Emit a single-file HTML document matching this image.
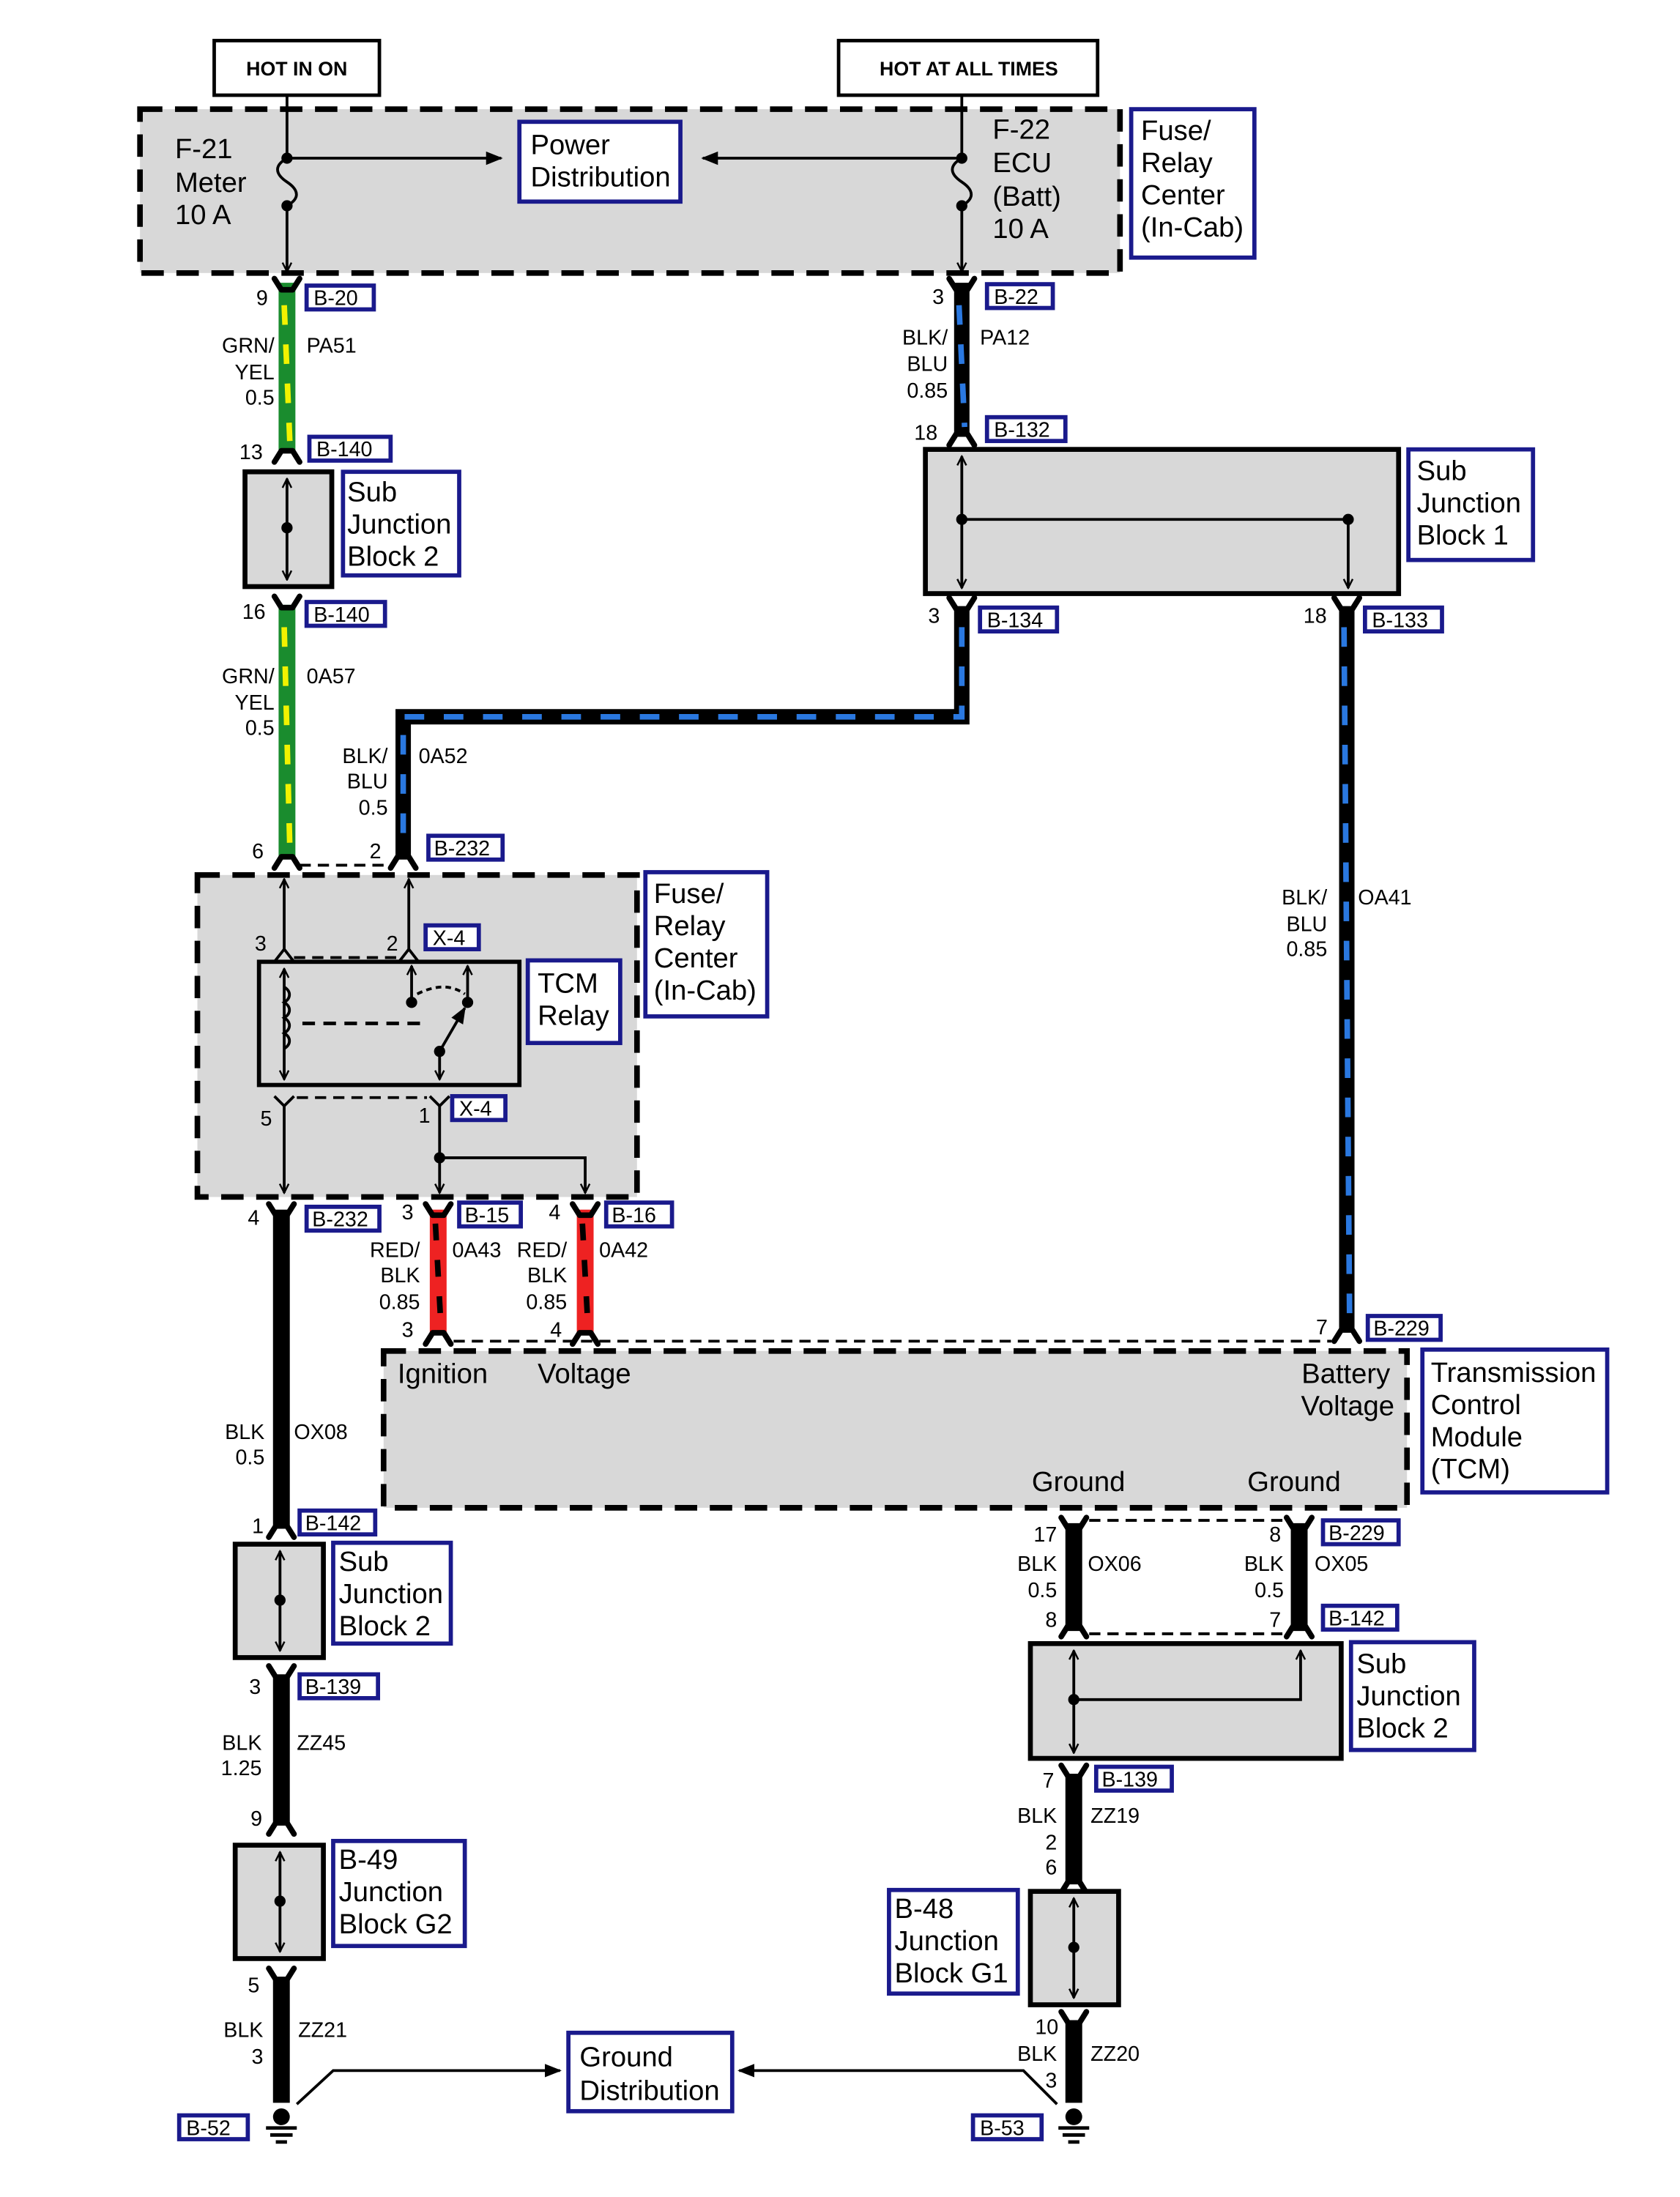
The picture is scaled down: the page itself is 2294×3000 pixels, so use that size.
<!DOCTYPE html>
<html><head><meta charset="utf-8"><style>
html,body{margin:0;padding:0;background:#fff;}
svg{display:block;}
text{font-family:"Liberation Sans",Arial,sans-serif;fill:#000;}
.s{font-size:15px;}
.m{font-size:20px;}
.b{fill:#fff;stroke:#1a1a8c;stroke-width:3;}
.g{fill:#d8d8d8;}
.dash{fill:#d8d8d8;stroke:#000;stroke-width:4;stroke-dasharray:16 9;}
.ln{stroke:#000;stroke-width:2;fill:none;}
.cn{stroke:#000;stroke-width:4;fill:none;stroke-linecap:round;stroke-linejoin:round;}
</style></head><body>
<svg width="2294" height="3000" viewBox="0 0 1200 1569.3" preserveAspectRatio="none" xmlns="http://www.w3.org/2000/svg">
<defs>
<marker id="a" viewBox="0 0 10 10" refX="9" refY="5" markerWidth="8" markerHeight="8" orient="auto-start-reverse" markerUnits="userSpaceOnUse"><path d="M1,1 L9,5 L1,9" fill="none" stroke="#000" stroke-width="1.6"/></marker>
<marker id="f" viewBox="0 0 10 10" refX="9" refY="5" markerWidth="16" markerHeight="12" orient="auto" markerUnits="userSpaceOnUse"><path d="M0,1 L10,5 L0,9 Z" fill="#000"/></marker>
</defs>

<rect x="153" y="29" width="118" height="39" fill="#fff" stroke="#000" stroke-width="2.5"/>
<text x="212" y="54" font-size="14" font-weight="bold" text-anchor="middle">HOT IN ON</text>
<rect x="599" y="29" width="185" height="39" fill="#fff" stroke="#000" stroke-width="2.5"/>
<text x="692" y="54" font-size="14" font-weight="bold" text-anchor="middle">HOT AT ALL TIMES</text>

<rect x="100" y="78" width="700" height="117" class="dash"/>
<text class="m" x="125" y="113">F-21</text><text class="m" x="125" y="137">Meter</text><text class="m" x="125" y="160">10 A</text>
<text class="m" x="709" y="99">F-22</text><text class="m" x="709" y="123">ECU</text><text class="m" x="709" y="147">(Batt)</text><text class="m" x="709" y="170">10 A</text>
<line x1="205" y1="68" x2="205" y2="113" class="ln"/>
<path d="M205,113 C196,118 196,124 205,130 C214,136 214,142 205,147" class="ln"/>
<line x1="205" y1="147" x2="205" y2="194" class="ln" marker-end="url(#a)"/>
<circle cx="205" cy="113" r="4"/><circle cx="205" cy="147" r="4"/>
<line x1="205" y1="113" x2="358" y2="113" class="ln" marker-end="url(#f)"/>
<line x1="687" y1="68" x2="687" y2="113" class="ln"/>
<path d="M687,113 C678,118 678,124 687,130 C696,136 696,142 687,147" class="ln"/>
<line x1="687" y1="147" x2="687" y2="194" class="ln" marker-end="url(#a)"/>
<circle cx="687" cy="113" r="4"/><circle cx="687" cy="147" r="4"/>
<line x1="687" y1="113" x2="502" y2="113" class="ln" marker-end="url(#f)"/>
<rect x="371" y="87" width="115" height="57" class="b"/>
<text class="m" x="379" y="110">Power</text><text class="m" x="379" y="133">Distribution</text>
<rect x="808" y="78" width="88" height="106" class="b"/>
<text class="m" x="815" y="100">Fuse/</text><text class="m" x="815" y="123">Relay</text><text class="m" x="815" y="146">Center</text><text class="m" x="815" y="169">(In-Cab)</text>

<line x1="205" y1="202" x2="205" y2="322" stroke="#1a8c2e" stroke-width="12"/>
<line x1="203" y1="218" x2="207" y2="315" stroke="#f2f200" stroke-width="4" stroke-dasharray="14 14"/>
<path d="M196,199 L201,207 L209,207 L214,199" class="cn"/>
<path d="M196,330 L201,322 L209,322 L214,330" class="cn"/>
<text class="s" x="183" y="218">9</text>
<rect x="219" y="204" width="48" height="17" class="b"/><text class="s" x="224" y="218">B-20</text>
<text class="s" x="196" y="252" text-anchor="end">GRN/</text><text class="s" x="196" y="271" text-anchor="end">YEL</text><text class="s" x="196" y="289" text-anchor="end">0.5</text>
<text class="s" x="219" y="252">PA51</text>
<text class="s" x="171" y="328">13</text>
<rect x="221" y="312" width="58" height="17" class="b"/><text class="s" x="226" y="326">B-140</text>

<rect x="175" y="337" width="62" height="82" class="g" stroke="#000" stroke-width="3.5"/>
<line x1="205" y1="342" x2="205" y2="414" class="ln" marker-start="url(#a)" marker-end="url(#a)"/>
<circle cx="205" cy="377" r="4"/>
<rect x="245" y="337" width="83" height="74" class="b"/>
<text class="m" x="248" y="358">Sub</text><text class="m" x="248" y="381">Junction</text><text class="m" x="248" y="404">Block 2</text>

<line x1="205" y1="432" x2="205" y2="612" stroke="#1a8c2e" stroke-width="12"/>
<line x1="203" y1="448" x2="207" y2="605" stroke="#f2f200" stroke-width="4" stroke-dasharray="14 14"/>
<path d="M196,426 L201,434 L209,434 L214,426" class="cn"/>
<path d="M196,620 L201,612 L209,612 L214,620" class="cn"/>
<text class="s" x="173" y="442">16</text>
<rect x="219" y="430" width="56" height="17" class="b"/><text class="s" x="224" y="444">B-140</text>
<text class="s" x="196" y="488" text-anchor="end">GRN/</text><text class="s" x="196" y="507" text-anchor="end">YEL</text><text class="s" x="196" y="525" text-anchor="end">0.5</text>
<text class="s" x="219" y="488">0A57</text>

<line x1="687" y1="202" x2="687" y2="310" stroke="#000" stroke-width="11"/>
<line x1="685" y1="218" x2="689" y2="305" stroke="#2a78e0" stroke-width="4" stroke-dasharray="14 14"/>
<path d="M678,199 L683,207 L691,207 L696,199" class="cn"/>
<path d="M678,318 L683,310 L691,310 L696,318" class="cn"/>
<text class="s" x="666" y="217">3</text>
<rect x="705" y="203" width="47" height="17" class="b"/><text class="s" x="710" y="217">B-22</text>
<text class="s" x="677" y="246" text-anchor="end">BLK/</text><text class="s" x="677" y="265" text-anchor="end">BLU</text><text class="s" x="677" y="284" text-anchor="end">0.85</text>
<text class="s" x="700" y="246">PA12</text>
<text class="s" x="653" y="314">18</text>
<rect x="705" y="298" width="56" height="17" class="b"/><text class="s" x="710" y="312">B-132</text>

<rect x="661" y="321" width="338" height="103" class="g" stroke="#000" stroke-width="3.5"/>
<line x1="687" y1="326" x2="687" y2="420" class="ln" marker-start="url(#a)" marker-end="url(#a)"/>
<polyline points="687,371 963,371 963,420" class="ln" marker-end="url(#a)"/>
<circle cx="687" cy="371" r="4"/><circle cx="963" cy="371" r="4"/>
<rect x="1006" y="321" width="89" height="79" class="b"/>
<text class="m" x="1012" y="343">Sub</text><text class="m" x="1012" y="366">Junction</text><text class="m" x="1012" y="389">Block 1</text>

<polyline points="687,433 687,512 288,512 288,612" fill="none" stroke="#000" stroke-width="11"/>
<polyline points="687,448 687,512 288,512 288,605" fill="none" stroke="#2a78e0" stroke-width="4" stroke-dasharray="14 14"/>
<path d="M678,427 L683,435 L691,435 L696,427" class="cn"/>
<path d="M279,620 L284,612 L292,612 L297,620" class="cn"/>
<text class="s" x="663" y="445">3</text>
<rect x="700" y="434" width="55" height="17" class="b"/><text class="s" x="705" y="448">B-134</text>
<text class="s" x="277" y="545" text-anchor="end">BLK/</text><text class="s" x="277" y="563" text-anchor="end">BLU</text><text class="s" x="277" y="582" text-anchor="end">0.5</text>
<text class="s" x="299" y="545">0A52</text>

<line x1="962" y1="433" x2="962" y2="950" stroke="#000" stroke-width="11"/>
<line x1="960" y1="448" x2="964" y2="943" stroke="#2a78e0" stroke-width="4" stroke-dasharray="14 14"/>
<path d="M953,427 L958,435 L966,435 L971,427" class="cn"/>
<path d="M953,958 L958,950 L966,950 L971,958" class="cn"/>
<text class="s" x="931" y="445">18</text>
<rect x="975" y="434" width="55" height="17" class="b"/><text class="s" x="980" y="448">B-133</text>
<text class="s" x="948" y="646" text-anchor="end">BLK/</text><text class="s" x="948" y="665" text-anchor="end">BLU</text><text class="s" x="948" y="683" text-anchor="end">0.85</text>
<text class="s" x="970" y="646">OA41</text>
<text class="s" x="940" y="953">7</text>
<rect x="977" y="940" width="52" height="17" class="b"/><text class="s" x="981" y="954">B-229</text>

<line x1="214" y1="618" x2="280" y2="618" stroke="#000" stroke-width="2" stroke-dasharray="8 5"/>
<text class="s" x="180" y="613">6</text><text class="s" x="264" y="613">2</text>
<rect x="306" y="597" width="53" height="17" class="b"/><text class="s" x="310" y="611">B-232</text>
<rect x="141" y="625" width="314" height="230" class="dash"/>
<rect x="461" y="623" width="87" height="103" class="b"/>
<text class="m" x="467" y="645">Fuse/</text><text class="m" x="467" y="668">Relay</text><text class="m" x="467" y="691">Center</text><text class="m" x="467" y="714">(In-Cab)</text>

<line x1="203" y1="678" x2="203" y2="628" class="ln" marker-end="url(#a)"/>
<line x1="292" y1="678" x2="292" y2="628" class="ln" marker-end="url(#a)"/>
<path d="M196,687 L203,678 L210,687 M285,687 L292,678 L299,687" class="ln"/>
<line x1="210" y1="684" x2="285" y2="684" stroke="#000" stroke-width="2" stroke-dasharray="8 5"/>
<text class="s" x="182" y="679">3</text><text class="s" x="276" y="679">2</text>
<rect x="304" y="661" width="38" height="17" class="b"/><text class="s" x="309" y="675">X-4</text>

<rect x="185" y="687" width="186" height="88" class="g" stroke="#000" stroke-width="3"/>
<line x1="203" y1="692" x2="203" y2="771" class="ln" marker-start="url(#a)" marker-end="url(#a)"/>
<path d="M203,705 c5,3 5,8 0,11 c5,3 5,8 0,11 c5,3 5,8 0,11 c5,3 5,8 0,11" class="ln"/>
<line x1="216" y1="731" x2="300" y2="731" stroke="#000" stroke-width="2.5" stroke-dasharray="9 6"/>
<line x1="294" y1="715" x2="294" y2="690" class="ln" marker-end="url(#a)"/>
<line x1="334" y1="715" x2="334" y2="690" class="ln" marker-end="url(#a)"/>
<circle cx="294" cy="716" r="4"/><circle cx="334" cy="716" r="4"/>
<path d="M298,710 Q318,700 332,710" fill="none" stroke="#000" stroke-width="2" stroke-dasharray="4 3"/>
<line x1="314" y1="751" x2="332" y2="720" class="ln" marker-end="url(#f)"/>
<circle cx="314" cy="751" r="4"/>
<line x1="314" y1="751" x2="314" y2="771" class="ln" marker-end="url(#a)"/>
<rect x="377" y="686" width="66" height="59" class="b"/>
<text class="m" x="384" y="709">TCM</text><text class="m" x="384" y="732">Relay</text>

<path d="M196,783 L203,790 L210,783 M307,783 L314,790 L321,783" class="ln"/>
<line x1="212" y1="784" x2="305" y2="784" stroke="#000" stroke-width="2" stroke-dasharray="8 5"/>
<text class="s" x="186" y="804">5</text><text class="s" x="299" y="802">1</text>
<rect x="323" y="783" width="38" height="17" class="b"/><text class="s" x="328" y="797">X-4</text>
<line x1="203" y1="790" x2="203" y2="852" class="ln" marker-end="url(#a)"/>
<line x1="314" y1="790" x2="314" y2="852" class="ln" marker-end="url(#a)"/>
<polyline points="314,827 418,827 418,852" class="ln" marker-end="url(#a)"/>
<circle cx="314" cy="827" r="4"/>

<line x1="201" y1="864" x2="201" y2="1090" stroke="#000" stroke-width="12"/>
<path d="M192,860 L197,868 L205,868 L210,860" class="cn"/>
<path d="M192,1098 L197,1090 L205,1090 L210,1098" class="cn"/>
<text class="s" x="177" y="875">4</text>
<rect x="219" y="862" width="52" height="17" class="b"/><text class="s" x="223" y="876">B-232</text>
<text class="s" x="189" y="1028" text-anchor="end">BLK</text><text class="s" x="189" y="1046" text-anchor="end">0.5</text>
<text class="s" x="210" y="1028">OX08</text>

<line x1="313" y1="864" x2="313" y2="952" stroke="#ee2222" stroke-width="12"/>
<line x1="311" y1="874" x2="315" y2="948" stroke="#000" stroke-width="4" stroke-dasharray="12 14"/>
<line x1="418" y1="864" x2="418" y2="952" stroke="#ee2222" stroke-width="12"/>
<line x1="416" y1="874" x2="420" y2="948" stroke="#000" stroke-width="4" stroke-dasharray="12 14"/>
<path d="M304,860 L309,868 L317,868 L322,860 M409,860 L414,868 L422,868 L427,860" class="cn"/>
<path d="M304,960 L309,952 L317,952 L322,960 M409,960 L414,952 L422,952 L427,960" class="cn"/>
<text class="s" x="287" y="871">3</text><text class="s" x="392" y="871">4</text>
<rect x="328" y="859" width="44" height="17" class="b"/><text class="s" x="332" y="873">B-15</text>
<rect x="433" y="859" width="47" height="17" class="b"/><text class="s" x="437" y="873">B-16</text>
<text class="s" x="300" y="898" text-anchor="end">RED/</text><text class="s" x="300" y="916" text-anchor="end">BLK</text><text class="s" x="300" y="935" text-anchor="end">0.85</text>
<text class="s" x="405" y="898" text-anchor="end">RED/</text><text class="s" x="405" y="916" text-anchor="end">BLK</text><text class="s" x="405" y="935" text-anchor="end">0.85</text>
<text class="s" x="323" y="898">0A43</text><text class="s" x="428" y="898">0A42</text>
<text class="s" x="287" y="955">3</text><text class="s" x="393" y="955">4</text>
<line x1="324" y1="958" x2="951" y2="958" stroke="#000" stroke-width="2" stroke-dasharray="8 5"/>

<rect x="274" y="965" width="731" height="112" class="dash"/>
<text class="m" x="284" y="988">Ignition</text><text class="m" x="384" y="988">Voltage</text>
<text class="m" x="993" y="988" text-anchor="end">Battery</text><text class="m" x="996" y="1011" text-anchor="end">Voltage</text>
<text class="m" x="737" y="1065">Ground</text><text class="m" x="891" y="1065">Ground</text>
<rect x="1016" y="964" width="132" height="102" class="b"/>
<text class="m" x="1022" y="987">Transmission</text><text class="m" x="1022" y="1010">Control</text><text class="m" x="1022" y="1033">Module</text><text class="m" x="1022" y="1056">(TCM)</text>

<text class="s" x="180" y="1095">1</text>
<rect x="214" y="1079" width="54" height="17" class="b"/><text class="s" x="218" y="1093">B-142</text>
<rect x="168" y="1103" width="63" height="81" class="g" stroke="#000" stroke-width="3.5"/>
<line x1="200" y1="1108" x2="200" y2="1179" class="ln" marker-start="url(#a)" marker-end="url(#a)"/>
<circle cx="200" cy="1143" r="4"/>
<rect x="238" y="1102" width="84" height="72" class="b"/>
<text class="m" x="242" y="1122">Sub</text><text class="m" x="242" y="1145">Junction</text><text class="m" x="242" y="1168">Block 2</text>

<line x1="201" y1="1196" x2="201" y2="1302" stroke="#000" stroke-width="12"/>
<path d="M192,1190 L197,1198 L205,1198 L210,1190" class="cn"/>
<path d="M192,1310 L197,1302 L205,1302 L210,1310" class="cn"/>
<text class="s" x="178" y="1210">3</text>
<rect x="214" y="1196" width="56" height="17" class="b"/><text class="s" x="218" y="1210">B-139</text>
<text class="s" x="187" y="1250" text-anchor="end">BLK</text><text class="s" x="187" y="1268" text-anchor="end">1.25</text>
<text class="s" x="212" y="1250">ZZ45</text>
<text class="s" x="179" y="1304">9</text>

<rect x="168" y="1318" width="63" height="81" class="g" stroke="#000" stroke-width="3.5"/>
<line x1="200" y1="1323" x2="200" y2="1394" class="ln" marker-start="url(#a)" marker-end="url(#a)"/>
<circle cx="200" cy="1358" r="4"/>
<rect x="238" y="1315" width="94" height="75" class="b"/>
<text class="m" x="242" y="1335">B-49</text><text class="m" x="242" y="1358">Junction</text><text class="m" x="242" y="1381">Block G2</text>

<line x1="201" y1="1412" x2="201" y2="1502" stroke="#000" stroke-width="12"/>
<path d="M192,1406 L197,1414 L205,1414 L210,1406" class="cn"/>
<text class="s" x="177" y="1423">5</text>
<text class="s" x="188" y="1455" text-anchor="end">BLK</text><text class="s" x="188" y="1474" text-anchor="end">3</text>
<text class="s" x="213" y="1455">ZZ21</text>
<circle cx="201" cy="1512" r="6"/>
<path d="M190,1520 H212 M193,1525 H209 M197,1530 H205" stroke="#000" stroke-width="2.5"/>
<rect x="128" y="1511" width="49" height="17" class="b"/><text class="s" x="133" y="1525">B-52</text>

<polyline points="212,1503 238,1479 400,1479" class="ln" marker-end="url(#f)"/>
<polyline points="755,1503 731,1479 528,1479" class="ln" marker-end="url(#f)"/>
<rect x="406" y="1452" width="117" height="56" class="b"/>
<text class="m" x="414" y="1476">Ground</text><text class="m" x="414" y="1500">Distribution</text>

<line x1="767" y1="1088" x2="767" y2="1165" stroke="#000" stroke-width="12"/>
<line x1="928" y1="1088" x2="928" y2="1165" stroke="#000" stroke-width="12"/>
<path d="M758,1084 L763,1092 L771,1092 L776,1084 M919,1084 L924,1092 L932,1092 L937,1084" class="cn"/>
<path d="M758,1169 L763,1161 L771,1161 L776,1169 M919,1169 L924,1161 L932,1161 L937,1169" class="cn"/>
<line x1="778" y1="1086" x2="918" y2="1086" stroke="#000" stroke-width="2" stroke-dasharray="8 5"/>
<line x1="778" y1="1167" x2="918" y2="1167" stroke="#000" stroke-width="2" stroke-dasharray="8 5"/>
<text class="s" x="755" y="1101" text-anchor="end">17</text><text class="s" x="915" y="1101" text-anchor="end">8</text>
<rect x="945" y="1086" width="54" height="17" class="b"/><text class="s" x="949" y="1100">B-229</text>
<text class="s" x="755" y="1122" text-anchor="end">BLK</text><text class="s" x="755" y="1141" text-anchor="end">0.5</text>
<text class="s" x="917" y="1122" text-anchor="end">BLK</text><text class="s" x="917" y="1141" text-anchor="end">0.5</text>
<text class="s" x="777" y="1122">OX06</text><text class="s" x="939" y="1122">OX05</text>
<text class="s" x="755" y="1162" text-anchor="end">8</text><text class="s" x="915" y="1162" text-anchor="end">7</text>
<rect x="945" y="1147" width="53" height="17" class="b"/><text class="s" x="949" y="1161">B-142</text>

<rect x="736" y="1174" width="222" height="82" class="g" stroke="#000" stroke-width="3.5"/>
<line x1="767" y1="1179" x2="767" y2="1252" class="ln" marker-start="url(#a)" marker-end="url(#a)"/>
<polyline points="767,1214 929,1214 929,1179" class="ln" marker-end="url(#a)"/>
<circle cx="767" cy="1214" r="4"/>
<rect x="965" y="1173" width="88" height="77" class="b"/>
<text class="m" x="969" y="1195">Sub</text><text class="m" x="969" y="1218">Junction</text><text class="m" x="969" y="1241">Block 2</text>

<line x1="767" y1="1267" x2="767" y2="1345" stroke="#000" stroke-width="12"/>
<path d="M758,1261 L763,1269 L771,1269 L776,1261" class="cn"/>
<path d="M758,1352 L763,1344 L771,1344 L776,1352" class="cn"/>
<text class="s" x="753" y="1277" text-anchor="end">7</text>
<rect x="783" y="1262" width="54" height="17" class="b"/><text class="s" x="787" y="1276">B-139</text>
<text class="s" x="755" y="1302" text-anchor="end">BLK</text><text class="s" x="755" y="1321" text-anchor="end">2</text><text class="s" x="755" y="1339" text-anchor="end">6</text>
<text class="s" x="779" y="1302">ZZ19</text>

<rect x="736" y="1351" width="63" height="81" class="g" stroke="#000" stroke-width="3.5"/>
<line x1="767" y1="1356" x2="767" y2="1427" class="ln" marker-start="url(#a)" marker-end="url(#a)"/>
<circle cx="767" cy="1391" r="4"/>
<rect x="635" y="1350" width="92" height="74" class="b"/>
<text class="m" x="639" y="1370">B-48</text><text class="m" x="639" y="1393">Junction</text><text class="m" x="639" y="1416">Block G1</text>

<line x1="767" y1="1443" x2="767" y2="1502" stroke="#000" stroke-width="12"/>
<path d="M758,1437 L763,1445 L771,1445 L776,1437" class="cn"/>
<text class="s" x="756" y="1453" text-anchor="end">10</text>
<text class="s" x="755" y="1472" text-anchor="end">BLK</text><text class="s" x="755" y="1491" text-anchor="end">3</text>
<text class="s" x="779" y="1472">ZZ20</text>
<circle cx="767" cy="1512" r="6"/>
<path d="M756,1520 H778 M759,1525 H775 M763,1530 H771" stroke="#000" stroke-width="2.5"/>
<rect x="695" y="1511" width="49" height="17" class="b"/><text class="s" x="700" y="1525">B-53</text>
</svg>
</body></html>
